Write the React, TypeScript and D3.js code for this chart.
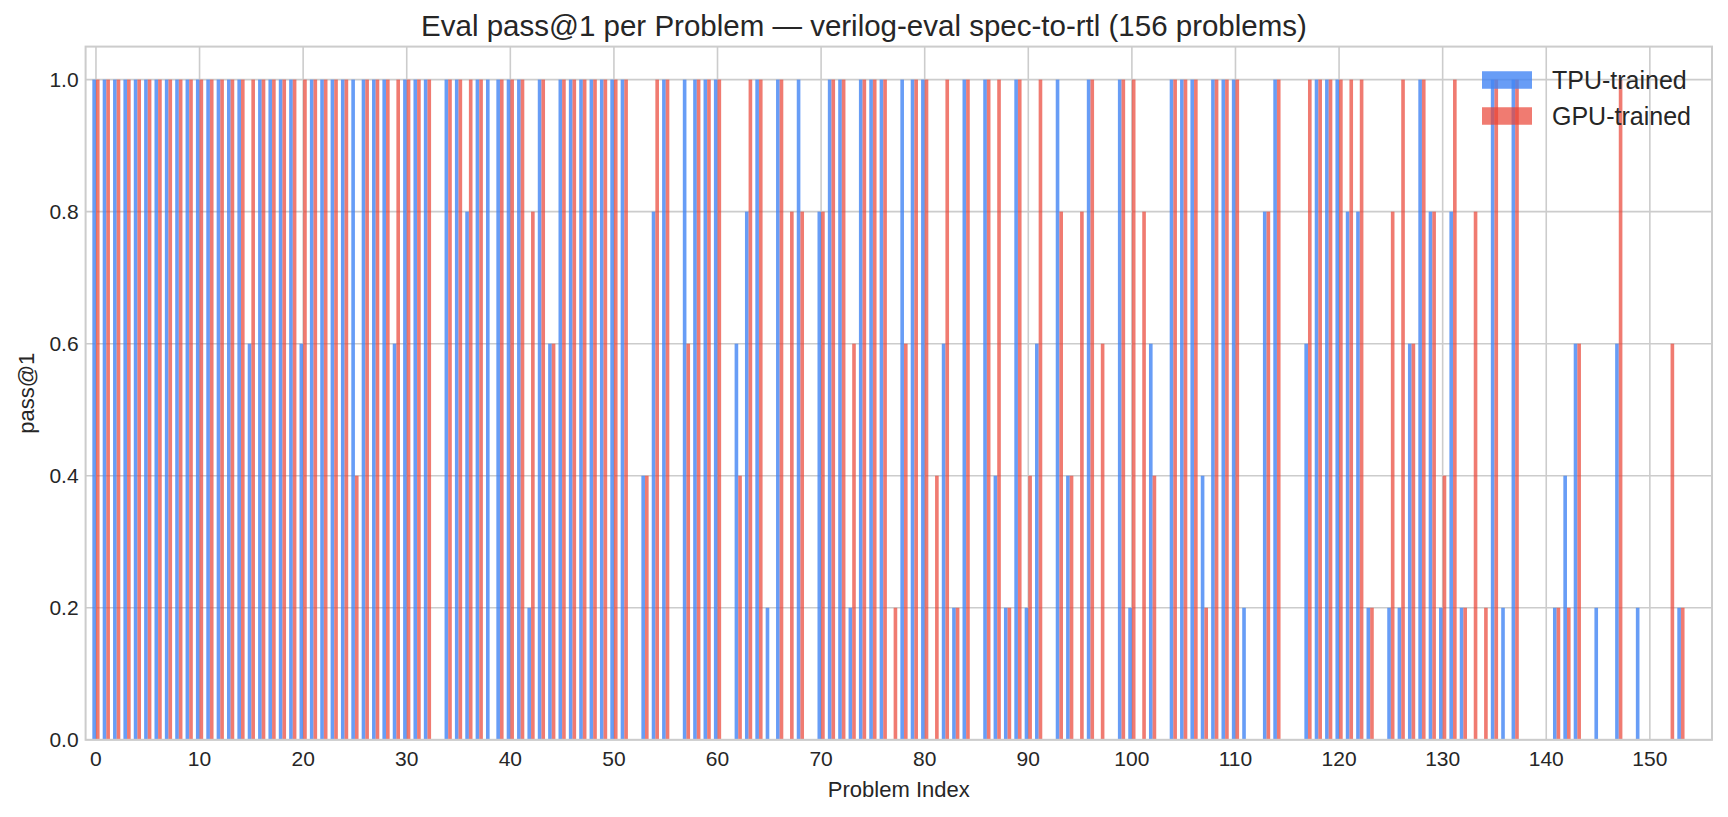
import {useMemo} from 'react'
import * as d3 from 'd3'

const WIDTH = 1728
const HEIGHT = 817
const MARGIN = {top: 46.6, right: 16, bottom: 77.2, left: 85.6}
const BAR_WIDTH = 0.35
const FONT = '"Liberation Sans", Arial, sans-serif'
const TEXT_COLOR = '#262626'
const GRID_COLOR = '#cccccc'

// pass@1 per problem, rows of 10 problems
const tpuValues = [
  1, 1, 1, 1, 1, 1, 1, 1, 1, 1,
  1, 1, 1, 1, 1, 0.6, 1, 1, 1, 1,
  0.6, 1, 1, 1, 1, 1, 1, 1, 1, 0.6,
  1, 1, 1, 0, 1, 1, 0.8, 1, 1, 1,
  1, 1, 0.2, 1, 0.6, 1, 1, 1, 1, 1,
  1, 1, 0, 0.4, 0.8, 1, 0, 1, 1, 1,
  1, 0, 0.6, 0.8, 1, 0.2, 1, 0, 1, 0,
  0.8, 1, 1, 0.2, 1, 1, 1, 0, 1, 1,
  1, 0, 0.6, 0.2, 1, 0, 1, 0.4, 0.2, 1,
  0.2, 0.6, 0, 1, 0.4, 0, 1, 0, 0, 1,
  0.2, 0, 0.6, 0, 1, 1, 1, 0.4, 1, 1,
  1, 0.2, 0, 0.8, 1, 0, 0, 0.6, 1, 1,
  1, 0.8, 0.8, 0.2, 0, 0.2, 0.2, 0.6, 1, 0.8,
  0.2, 0.8, 0.2, 0, 0, 1, 0.2, 1, 0, 0,
  0, 0.2, 0.4, 0.6, 0, 0.2, 0, 0.6, 0, 0.2,
  0, 0, 0, 0.2, 0, 0,
]

const gpuValues = [
  1, 1, 1, 1, 1, 1, 1, 1, 1, 1,
  1, 1, 1, 1, 1, 1, 1, 1, 1, 1,
  1, 1, 1, 1, 1, 0.4, 1, 1, 1, 1,
  1, 1, 1, 0, 1, 1, 1, 1, 0, 1,
  1, 1, 0.8, 1, 0.6, 1, 1, 1, 1, 1,
  1, 1, 0, 0.4, 1, 1, 0, 0.6, 1, 1,
  1, 0, 0.4, 1, 1, 0, 1, 0.8, 0.8, 0,
  0.8, 1, 1, 0.6, 1, 1, 1, 0.2, 0.6, 1,
  1, 0.4, 1, 0.2, 1, 0, 1, 1, 0.2, 1,
  0.4, 1, 0, 0.8, 0.4, 0.8, 1, 0.6, 0, 1,
  1, 0.8, 0.4, 0, 1, 1, 1, 0.2, 1, 1,
  1, 0, 0, 0.8, 1, 0, 0, 1, 1, 1,
  1, 1, 1, 0.2, 0, 0.8, 1, 0.6, 1, 0.8,
  0.4, 1, 0.2, 0.8, 0.2, 1, 0, 1, 0, 0,
  0, 0.2, 0.2, 0.6, 0, 0, 0, 1, 0, 0,
  0, 0, 0.6, 0.2, 0, 0,
]

const xTicks = [0, 10, 20, 30, 40, 50, 60, 70, 80, 90, 100, 110, 120, 130, 140, 150]
const yTicks = [0, 0.2, 0.4, 0.6, 0.8, 1.0]

const series = [
  {name: 'TPU-trained', values: tpuValues, color: '#4285F4', opacity: 0.8, offset: -BAR_WIDTH},
  {name: 'GPU-trained', values: gpuValues, color: '#EA4335', opacity: 0.7, offset: 0},
]

const App = () => {
  const boundsWidth = WIDTH - MARGIN.left - MARGIN.right
  const boundsHeight = HEIGHT - MARGIN.top - MARGIN.bottom

  const xScale = useMemo(
    () => d3.scaleLinear().domain([-1, 156]).range([0, boundsWidth]),
    [boundsWidth],
  )
  const yScale = useMemo(
    () => d3.scaleLinear().domain([0, 1.05]).range([boundsHeight, 0]),
    [boundsHeight],
  )

  const grid = (
    <g>
      {yTicks.map(t => (
        <line key={'gy' + t} x1={0} x2={boundsWidth} y1={yScale(t)} y2={yScale(t)}
          stroke={GRID_COLOR} strokeWidth={1.6} />
      ))}
      {xTicks.map(t => (
        <line key={'gx' + t} x1={xScale(t)} x2={xScale(t)} y1={0} y2={boundsHeight}
          stroke={GRID_COLOR} strokeWidth={1.6} />
      ))}
    </g>
  )

  const bars = series.map(s => (
    <g key={s.name} fill={s.color} fillOpacity={s.opacity}>
      {s.values.map((v, i) => {
        if (v <= 0) return null
        const x0 = xScale(i + s.offset)
        const x1 = xScale(i + s.offset + BAR_WIDTH)
        return <rect key={i} x={x0} y={yScale(v)} width={x1 - x0} height={yScale(0) - yScale(v)} />
      })}
    </g>
  ))

  const tickLabels = (
    <g fontFamily={FONT} fontSize={21} fill={TEXT_COLOR}>
      {xTicks.map(t => (
        <text key={'tx' + t} x={xScale(t)} y={boundsHeight + 26} textAnchor="middle">{t}</text>
      ))}
      {yTicks.map(t => (
        <text key={'ty' + t} x={-7} y={yScale(t) + 7.5} textAnchor="end">{t.toFixed(1)}</text>
      ))}
    </g>
  )

  // legend sits in the upper right, no frame
  const legend = (
    <g fontFamily={FONT} fontSize={25} fill={TEXT_COLOR}>
      {series.map((s, i) => (
        <g key={s.name} transform={`translate(${1482 - MARGIN.left},${80 - MARGIN.top + i * 36})`}>
          <rect x={0} y={-8.75} width={50} height={17.5} fill={s.color} fillOpacity={s.opacity} />
          <text x={70} y={9}>{s.name}</text>
        </g>
      ))}
    </g>
  )

  return (
    <div style={{position: 'absolute', left: 0, top: 0}}>
      <svg width={WIDTH} height={HEIGHT} style={{display: 'block', background: '#fff'}}>
        {/* title is centred on the figure, not on the axes */}
        <text x={WIDTH / 2} y={36} textAnchor="middle"
          fontFamily={FONT} fontSize={29.5} fill={TEXT_COLOR}>
          Eval pass@1 per Problem — verilog-eval spec-to-rtl (156 problems)
        </text>
        <g transform={`translate(${MARGIN.left},${MARGIN.top})`}>
          {grid}
          {bars}
          <rect x={0} y={0} width={boundsWidth} height={boundsHeight} fill="none"
            stroke={GRID_COLOR} strokeWidth={2} />
          {tickLabels}
          {legend}
        </g>
        <text x={MARGIN.left + boundsWidth / 2} y={797} textAnchor="middle"
          fontFamily={FONT} fontSize={22} fill={TEXT_COLOR}>
          Problem Index
        </text>
        <text transform={`translate(${34},${MARGIN.top + boundsHeight / 2}) rotate(-90)`}
          textAnchor="middle" fontFamily={FONT} fontSize={22} fill={TEXT_COLOR}>
          pass@1
        </text>
      </svg>
    </div>
  )
}

export default App
